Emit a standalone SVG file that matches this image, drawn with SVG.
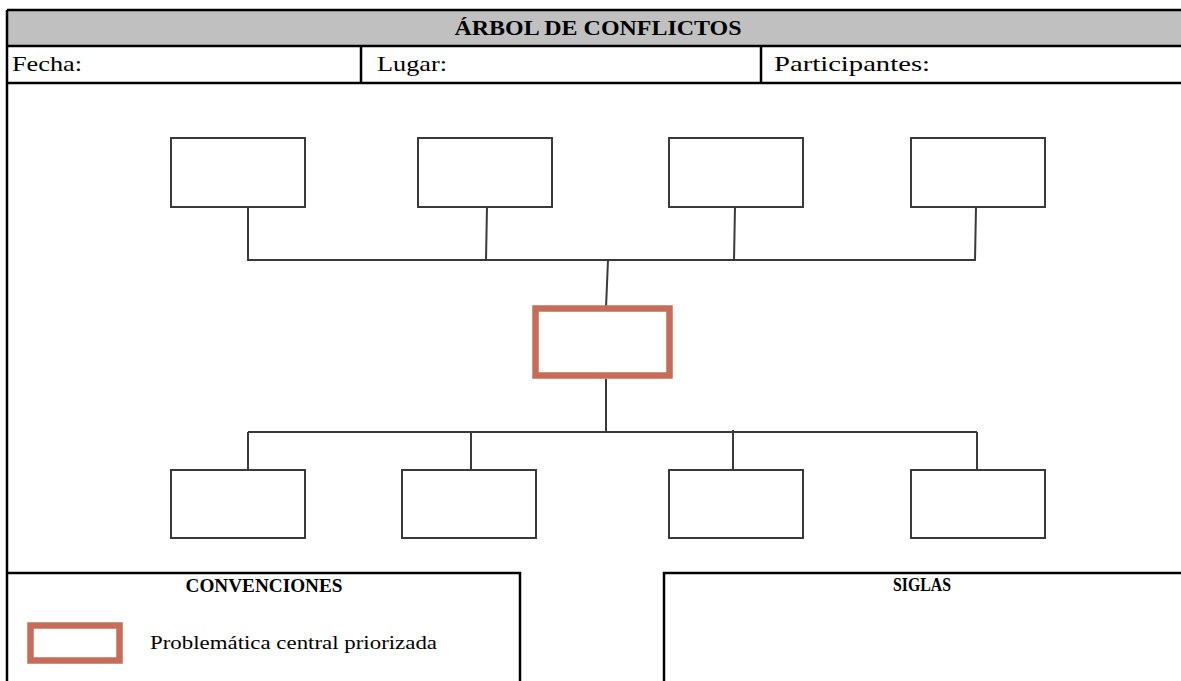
<svg xmlns="http://www.w3.org/2000/svg" width="1181" height="681" viewBox="0 0 1181 681">
<style>
.frame{stroke:#000;stroke-width:2.5;fill:none}
.box{fill:#fff;stroke:#3a3a3a;stroke-width:2}
.conn{stroke:#3a3a3a;stroke-width:2;fill:none}
.central{fill:#fff;stroke:#c56d59;stroke-width:6.5}
.t{font-family:"Liberation Serif","Times New Roman",serif;fill:#000}
.b{font-weight:bold}
</style>
<rect x="0" y="0" width="1181" height="681" fill="#fff"/>
<g id="header">
<rect x="7" y="10" width="1176" height="36" fill="#c0c0c0"/>
<path class="frame" d="M7,10 H1183 M7,46 H1183 M7,83 H1183 M7,10 V681 M361,46 V83 M761,46 V83"/>
<text class="t b" x="598" y="35" font-size="22" text-anchor="middle" textLength="287" lengthAdjust="spacingAndGlyphs">ÁRBOL DE CONFLICTOS</text>
<text class="t" x="12" y="71" font-size="22" textLength="70" lengthAdjust="spacingAndGlyphs">Fecha:</text>
<text class="t" x="377" y="71" font-size="22" textLength="70" lengthAdjust="spacingAndGlyphs">Lugar:</text>
<text class="t" x="774" y="71" font-size="22" textLength="156" lengthAdjust="spacingAndGlyphs">Participantes:</text>
</g>
<g id="connectors">
<path class="conn" d="M248,207 V260 M487,207 L486,260 M735,207 L734,260 M976,207 L975,260 M247,260 H976"/>
<path class="conn" d="M608,260 L606,308"/>
<path class="conn" d="M606,379 V433"/>
<path class="conn" d="M248,432 H977 M248,432 V470 M471,432 V470 M733,430 V470 M977,432 V470"/>
</g>
<g id="top1"><rect class="box" x="171" y="138" width="134" height="69"/></g>
<g id="top2"><rect class="box" x="418" y="138" width="134" height="69"/></g>
<g id="top3"><rect class="box" x="669" y="138" width="134" height="69"/></g>
<g id="top4"><rect class="box" x="911" y="138" width="134" height="69"/></g>
<g id="central"><rect class="central" x="535.5" y="308.5" width="134" height="67"/></g>
<g id="bottom1"><rect class="box" x="171" y="470" width="134" height="68"/></g>
<g id="bottom2"><rect class="box" x="402" y="470" width="134" height="68"/></g>
<g id="bottom3"><rect class="box" x="669" y="470" width="134" height="68"/></g>
<g id="bottom4"><rect class="box" x="911" y="470" width="134" height="68"/></g>
<g id="convenciones">
<path class="frame" d="M7,573 H520 V681"/>
<text class="t b" x="264" y="592" font-size="18" text-anchor="middle" textLength="157" lengthAdjust="spacingAndGlyphs">CONVENCIONES</text>
<rect class="central" x="30.5" y="625.5" width="89" height="35" stroke-width="7"/>
<text class="t" x="150" y="649" font-size="18" textLength="287" lengthAdjust="spacingAndGlyphs">Problemática central priorizada</text>
</g>
<g id="siglas">
<path class="frame" d="M664,681 V573 H1183"/>
<text class="t b" x="922" y="591" font-size="18" text-anchor="middle" textLength="58" lengthAdjust="spacingAndGlyphs">SIGLAS</text>
</g>
</svg>
